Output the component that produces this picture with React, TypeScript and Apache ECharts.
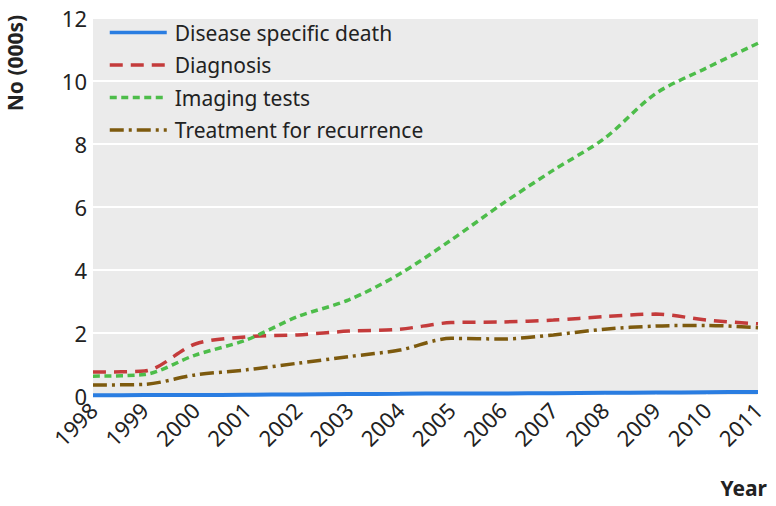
import React, { useEffect, useRef } from "react";
import * as echarts from "echarts";

const years = ["1998", "1999", "2000", "2001", "2002", "2003", "2004", "2005", "2006", "2007", "2008", "2009", "2010", "2011"];
const deathValues = [0.02, 0.03, 0.03, 0.04, 0.05, 0.06, 0.07, 0.08, 0.08, 0.09, 0.1, 0.11, 0.12, 0.13];
const diagnosisValues = [0.76, 0.79, 1.65, 1.88, 1.94, 2.06, 2.12, 2.33, 2.35, 2.41, 2.52, 2.6, 2.41, 2.29];
const imagingValues = [0.63, 0.68, 1.3, 1.78, 2.52, 3.05, 3.88, 4.95, 6.1, 7.17, 8.18, 9.6, 10.42, 11.2];
const treatmentValues = [0.35, 0.37, 0.67, 0.83, 1.04, 1.25, 1.46, 1.83, 1.81, 1.94, 2.12, 2.22, 2.24, 2.17];
const yTicks = { min: 0, max: 12, interval: 2 };

const FONT = "Noto Sans";

export default function App() {
  const ref = useRef<HTMLDivElement>(null);
  useEffect(() => {
    document.body.style.margin = "0";
    const chart = echarts.init(ref.current!, null, { renderer: "svg" });
    const mk = (name: string, data: number[], color: string, type: any, width: number) => ({
      name,
      type: "line",
      data,
      symbol: "none",
      smooth: 0.3,
      lineStyle: { color, width, type },
      itemStyle: { color },
    });
    chart.setOption({
      animation: false,
      textStyle: { fontFamily: FONT },
      grid: {
        left: 93,
        right: 18,
        top: 18,
        bottom: 110,
        show: true,
        backgroundColor: "#ebebeb",
        borderWidth: 0,
      },
      legend: {
        orient: "vertical",
        left: 108,
        top: 22,
        padding: 0,
        itemWidth: 57,
        itemHeight: 14,
        itemGap: 11.5,
        itemStyle: { opacity: 0 },
        lineStyle: { width: 3.5 },
        textStyle: { fontSize: 21, color: "#222", fontFamily: FONT, padding: [0, 0, 0, 3] },
        data: ["Disease specific death", "Diagnosis", "Imaging tests", "Treatment for recurrence"],
      },
      xAxis: {
        type: "category",
        data: years,
        boundaryGap: false,
        axisLine: { show: false },
        axisTick: { show: true, inside: true, length: 3, lineStyle: { color: "#ffffff", width: 1.5 } },
        axisLabel: { rotate: 45, fontSize: 22, color: "#222", margin: 10, fontFamily: FONT },
        splitLine: { show: false },
      },
      yAxis: {
        type: "value",
        min: yTicks.min,
        max: yTicks.max,
        interval: yTicks.interval,
        axisLine: { show: false },
        axisTick: { show: false },
        axisLabel: { fontSize: 22, color: "#222", margin: 6, fontFamily: FONT },
        splitLine: { show: true, lineStyle: { color: "#ffffff", width: 2 } },
      },
      graphic: [
        {
          type: "text",
          x: 15,
          y: 63,
          rotation: Math.PI / 2,
          style: {
            text: "No (000s)",
            font: `bold 21px "${FONT}"`,
            fill: "#222",
            textAlign: "center",
            textVerticalAlign: "middle",
          },
        },
        {
          type: "text",
          x: 767,
          y: 488,
          style: {
            text: "Year",
            font: `bold 21px "${FONT}"`,
            fill: "#222",
            textAlign: "right",
            textVerticalAlign: "middle",
          },
        },
      ],
      series: [
        mk("Disease specific death", deathValues, "#2a7de1", "solid", 4),
        mk("Diagnosis", diagnosisValues, "#c43b3b", [13, 8], 3.5),
        mk("Imaging tests", imagingValues, "#4dbd4a", [7, 4.5], 3.5),
        mk("Treatment for recurrence", treatmentValues, "#7d5a0e", [14, 5, 3, 5], 3.5),
      ],
    });
    return () => chart.dispose();
  }, []);
  return <div ref={ref} style={{ width: 776, height: 506 }} />;
}
